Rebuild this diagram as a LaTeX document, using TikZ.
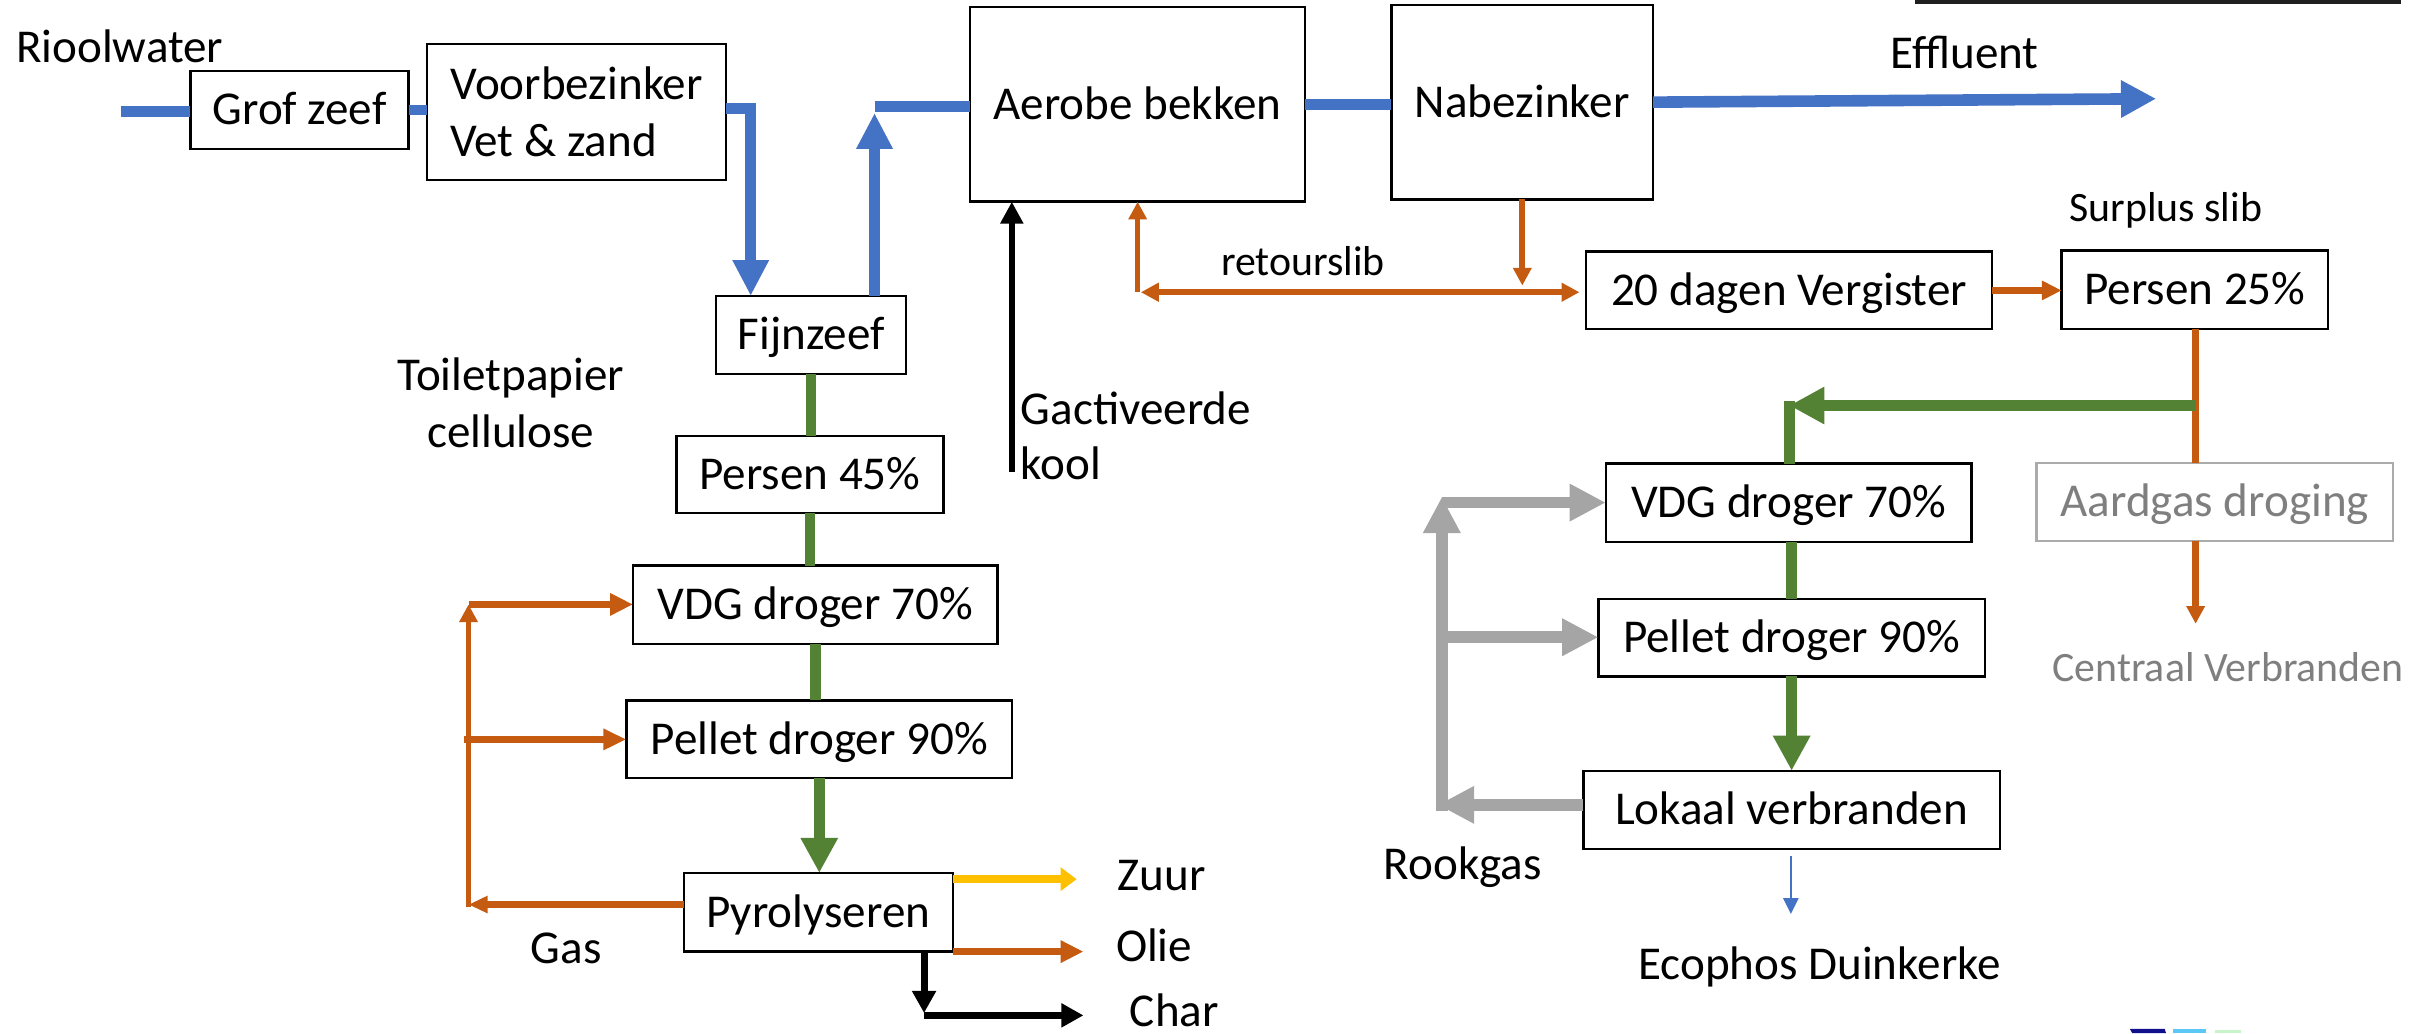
\documentclass[tikz,border=0pt]{standalone}
\usepackage{fontspec}
\setmainfont{Carlito}
\usetikzlibrary{arrows.meta}
\definecolor{cblue}{HTML}{4472C4}
\definecolor{corange}{HTML}{C55A11}
\definecolor{cgreen}{HTML}{548235}
\definecolor{cgray}{HTML}{A5A5A5}
\definecolor{cyellow}{HTML}{FFC000}
\definecolor{ctext}{HTML}{7F7F7F}
\definecolor{cbord}{HTML}{ABABAB}
\definecolor{cnavy}{HTML}{10108C}
\definecolor{clblue}{HTML}{5CC8F5}
\definecolor{clgreen}{HTML}{C8F5C8}
\begin{document}
\begin{tikzpicture}[x=0.01548cm, y=-0.01548cm,
  every node/.style={inner sep=0pt, outer sep=0pt},
  mainfont/.style={font=\fontsize{13.4}{16.08}\selectfont},
  boxbase/.style={draw=black, line width=0.7pt, fill=white, mainfont},
  box/.style={boxbase, text height=8.5pt, text depth=0pt},
  sz/.style 2 args={minimum width=#1*0.44045pt, minimum height=#2*0.44045pt},
  lbl/.style={anchor=base west, mainfont},
  slbl/.style={anchor=base west, font=\fontsize{11.9}{14}\selectfont},
  bluel/.style={draw=cblue, line width=3.1pt},
  bluea/.style={bluel, -{Triangle[length=10.2pt, width=9.7pt]}},
  bluebig/.style={bluel, line width=3.3pt, -{Triangle[length=10pt, width=10pt]}},
  bluethin/.style={draw=cblue, line width=0.6pt, -{Triangle[length=4.5pt, width=4.3pt]}},
  greenl/.style={draw=cgreen, line width=3pt},
  greena/.style={greenl, -{Triangle[length=10pt, width=10pt]}},
  grayl/.style={draw=cgray, line width=3.3pt},
  graya/.style={grayl, -{Triangle[length=10.3pt, width=10pt]}},
  orl/.style={draw=corange, line width=1.8pt},
  ora/.style={orl, -{Triangle[length=5.4pt, width=5pt]}},
  orthin/.style={draw=corange, line width=1.5pt, -{Triangle[length=5pt, width=5pt]}},
  orbig/.style={orl, line width=2pt, -{Triangle[length=6.5pt, width=6pt]}},
  blka/.style={draw=black, line width=1.7pt, -{Triangle[length=6.2pt, width=6.2pt]}},
  blkb/.style={draw=black, line width=2pt, -{Triangle[length=6.3pt, width=6.5pt]}},
  yela/.style={draw=cyellow, line width=2.2pt, -{Triangle[length=4.6pt, width=6.5pt]}},
]
\useasboundingbox (0,0) rectangle (1568,667.4);

% ---- boxes ----
\node[box, sz={141}{50.4}] (grof) at (193.5,71.1) {Grof zeef};
\node[boxbase, sz={193}{87.9}, align=left] (voor) at (372.5,72.35) {Voorbezinker\\Vet \& zand};
\node[box, sz={122.7}{50.4}] (fijn) at (524.05,216.4) {Fijnzeef};
\node[box, sz={216.4}{125.6}] (aer) at (734.8,67.5) {Aerobe bekken};
\node[box, sz={169}{125.6}] (nab) at (983.5,66) {Nabezinker};
\node[box, sz={262.4}{50.1}] (verg) at (1155.8,187.65) {20 dagen Vergister};
\node[box, sz={172}{50.7}] (pers25) at (1418,187.35) {Persen 25\%};
\node[box, sz={236.1}{50.5}] (vdgR) at (1155.55,324.75) {VDG droger 70\%};
\node[box, sz={230.3}{50.5}, draw=cbord, text=ctext] (aard) at (1430.85,324.25) {Aardgas droging};
\node[box, sz={249.6}{50}] (pelR) at (1157.5,412) {Pellet droger 90\%};
\node[box, sz={269}{50.5}] (lok) at (1157.5,523.25) {Lokaal verbranden\hspace{6.2pt}};
\node[box, sz={172.5}{49.8}] (pers45) at (523.25,306.5) {Persen 45\%};
\node[box, sz={235.4}{50.5}] (vdgL) at (526.7,390.75) {VDG droger 70\%};
\node[box, sz={249.2}{50}] (pelL) at (529.3,477.5) {Pellet droger 90\%};
\node[box, sz={173.7}{50.8}] (pyr) at (528.65,589.4) {Pyrolyseren};

% ---- labels ----
\node[lbl] (trio) at (10.4,40.5) {Rioolwater};
\node[lbl] (teff) at (1221.6,44.1) {Effluent};
\node[slbl] (tsur) at (1337,143.2) {Surplus slib};
\node[slbl] (tret) at (789,177.7) {retourslib};
\node[lbl] (tgac) at (659.5,274) {Gactiveerde};
\node[lbl] (tkool) at (659.5,310) {kool};
\node[lbl, anchor=base] (ttoi) at (330,252) {Toiletpapier};
\node[lbl, anchor=base] (tcel) at (330,288.8) {cellulose};
\node[lbl] (tgas) at (343,622.8) {Gas};
\node[lbl] (tzuur) at (722,575) {Zuur};
\node[lbl] (tolie) at (721,621) {Olie};
\node[lbl] (tchar) at (730,663) {Char};
\node[lbl] (trook) at (894,568) {Rookgas};
\node[lbl] (teco) at (1058.5,633) {Ecophos Duinkerke};
\node[slbl, text=ctext] (tcen) at (1326,440.6) {Centraal Verbranden};

% ---- blue water line ----
\coordinate (rin) at (78,72);
\draw[bluel] (rin) -- (rin -| grof.west);
\draw[bluel] (grof.east) -- (grof.east -| voor.west);
\coordinate (vb) at (485,70);
\draw[bluea] (voor.east |- vb) -- (vb) -- (vb |- fijn.north);
\coordinate (fu) at (565,73);
\draw[bluea] (fu |- fijn.north) -- (fu);
\coordinate (fh) at (565,69);
\draw[bluel] (fh) -- (fh -| aer.west);
\draw[bluel] (aer.east) -- (aer.east -| nab.west);
\coordinate (eff) at (1393,63.8);
\draw[bluebig] (nab.east) -- (eff);

% ---- activated carbon ----
\coordinate (gk) at (653.7,305);
\draw[blka] (gk) -- (gk |- aer.south);

% ---- sludge (orange) ----
\coordinate (rl) at (735,188.8);
\draw[orthin, line width=1.6pt] (rl) -- (rl |- aer.south);
\draw[orl, line width=1.7pt, {Triangle[length=5.1pt, width=5.1pt]}-{Triangle[length=5.1pt, width=5.1pt]}, shorten >=1.8pt] ([xshift=0.9pt]rl) -- (rl -| verg.west);
\coordinate (nd) at (983.5,184.5);
\draw[orthin, line width=1.7pt] (nab.south -| nd) -- (nd);
\draw[ora, line width=2pt, -{Triangle[length=5.6pt, width=5.2pt]}] (verg.east) -- (verg.east -| pers25.west);
\coordinate (ox) at (1418.5,262);
\draw[orl] (pers25.south -| ox) -- (aard.north -| ox);
\coordinate (cv) at (1418.5,403);
\draw[orthin, line width=1.8pt] (aard.south -| cv) -- (cv);

% ---- right sludge treatment (green / gray) ----
\coordinate (gc) at (1156,262);
\draw[greena, line width=3.2pt] (ox) -- (gc);
\draw[greenl] ([yshift=1.4pt]gc) -- (gc |- vdgR.north);
\draw[greenl] (pelR.north |- vdgR.south) -- (pelR.north);
\draw[greena] (pelR.south) -- (pelR.south |- lok.north);
\coordinate (gb) at (929,520);
\draw[graya] (lok.west |- gb) -- (gb);
\coordinate (gv) at (931.5,321);
\draw[graya] (gv |- 0,524) -- (gv);
\coordinate (gt) at (931.5,324.7);
\draw[graya] (gt) -- (gt -| vdgR.west);
\coordinate (gp) at (931.5,411.7);
\draw[graya] (gp) -- (gp -| pelR.west);
\coordinate (ec) at (1157,590.5);
\draw[bluethin, shorten <=2pt] (ec |- lok.south) -- (ec);

% ---- left screenings line ----
\draw[greenl] (fijn.south) -- (fijn.south |- pers45.north);
\draw[greenl] (pers45.south) -- (pers45.south |- vdgL.north);
\draw[greenl] (vdgL.south) -- (vdgL.south |- pelL.north);
\draw[greena] (pelL.south) -- (pelL.south |- pyr.north);
\coordinate (ga) at (302.7,584.4);
\draw[ora, -{Triangle[length=5.4pt, width=4.6pt]}] (pyr.west |- ga) -- (ga);
\coordinate (gu) at (302.7,390.5);
\draw[orthin] (ga |- 0,586) -- (gu);
\draw[orbig] (gu) -- (gu -| vdgL.west);
\coordinate (gl) at (300,477.7);
\draw[orbig, -{Triangle[length=6.5pt, width=5.7pt]}] (gl) -- (gl -| pelL.west);

% ---- pyrolysis products ----
\coordinate (zu) at (695.6,568);
\draw[yela] (pyr.east |- zu) -- (zu);
\coordinate (ol) at (700,614.8);
\draw[orbig] (pyr.east |- ol) -- (ol);
\coordinate (chv) at (597,654.5);
\draw[blkb] (pyr.south -| chv) -- (chv);
\coordinate (chh) at (700,656);
\draw[blkb] (chv |- chh) -- (chh);

% ---- page decorations ----
\fill[black!88] (1237,0) rectangle (1551,2.8);
\fill[cnavy] (1376,664.7) -- (1398.5,664.7) -- (1399.4,667.4) -- (1377.5,667.4) -- cycle;
\fill[clblue] (1403.6,664.9) rectangle (1425,667.4);
\fill[clgreen] (1431,665.3) rectangle (1448,667.4);
\end{tikzpicture}
\end{document}
